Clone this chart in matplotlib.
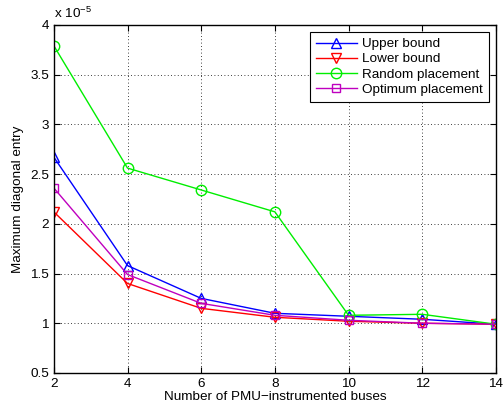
import numpy as np
import matplotlib
matplotlib.use('Agg')
import matplotlib.pyplot as plt

plt.rcParams['font.family'] = ['Liberation Sans', 'DejaVu Sans']
plt.rcParams['mathtext.fontset'] = 'custom'
plt.rcParams['mathtext.rm'] = 'Liberation Sans'

buses = [2, 4, 6, 8, 10, 12, 14]
upper = [2.67, 1.58, 1.25, 1.10, 1.07, 1.04, 0.99]
lower = [2.12, 1.40, 1.15, 1.06, 1.02, 1.00, 0.99]
random_pl = [3.79, 2.56, 2.34, 2.12, 1.08, 1.09, 0.99]
optimum = [2.36, 1.49, 1.20, 1.08, 1.03, 1.00, 0.99]

fs = 9.7

fig = plt.figure(figsize=(5.03, 4.11), dpi=100)
ax = fig.add_axes([0.107, 0.0925, 0.879, 0.847])

ax.plot(buses, upper, color='b', marker='^', ms=7.5, mfc='none', lw=1, label='Upper bound')
ax.plot(buses, lower, color='r', marker='v', ms=7.5, mfc='none', lw=1, label='Lower bound')
ax.plot(buses, random_pl, color='#00ee00', marker='o', ms=7.5, mfc='none', lw=1, label='Random placement')
ax.plot(buses, optimum, color='m', marker='s', ms=6, mfc='none', lw=1, label='Optimum placement')

ax.set_xlim(2, 14)
ax.set_ylim(0.5, 4)
ax.set_xticks(buses)
ax.set_yticks(np.arange(0.5, 4.01, 0.5))
ax.set_yticklabels(['0.5', '1', '1.5', '2', '2.5', '3', '3.5', '4'])
ax.grid(True, color='k', ls=(0, (1, 3)), lw=0.6)
ax.tick_params(direction='in', labelsize=fs, top=True, right=True, length=4)
for s in ax.spines.values():
    s.set_linewidth(1.0)

ax.set_xlabel('Number of PMU\u2212instrumented buses', fontsize=fs, labelpad=1)
ax.set_ylabel('Maximum diagonal entry', fontsize=fs, labelpad=4)
ax.text(0.0, 1.01, r'x 10$^{-5}$', transform=ax.transAxes, fontsize=fs, va='bottom')

leg = ax.legend(loc='upper right', fontsize=fs, fancybox=False, edgecolor='k',
                framealpha=1, handlelength=3.0, borderpad=0.45, labelspacing=0.2,
                handletextpad=0.4, borderaxespad=0, bbox_to_anchor=(0.984, 0.98))
leg.get_frame().set_linewidth(0.8)

plt.savefig('out.png', dpi=100)
